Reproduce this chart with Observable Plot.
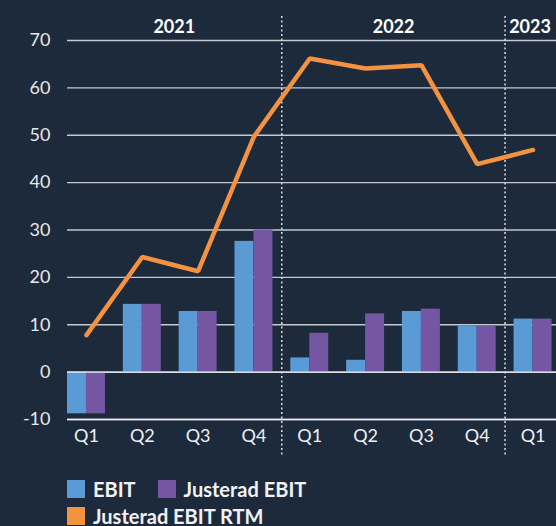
<!DOCTYPE html>
<html>
<head>
<meta charset="utf-8">
<script src="https://cdn.jsdelivr.net/npm/d3@7"></script>
<script src="https://cdn.jsdelivr.net/npm/@observablehq/plot@0.6"></script>
<style>
  html, body { margin: 0; padding: 0; background: #1c2a3c; }
  body { width: 556px; height: 526px; overflow: hidden; font-family: Lato, "Noto Sans", sans-serif; }
  #legend { display: flex; flex-wrap: wrap; width: 400px; margin-left: 67px; padding-top: 9px; row-gap: 8px; column-gap: 0; }
  .item { display: flex; align-items: center; color: #f2f2f2; font-size: 20px; font-weight: 700; margin-right: 22px; height: 19px; }
  .sw { width: 18px; height: 18px; margin-right: 8px; }
</style>
</head>
<body>
<div id="chart"></div>
<div id="legend"></div>
<script>
const quarters = ["2021 Q1","2021 Q2","2021 Q3","2021 Q4","2022 Q1","2022 Q2","2022 Q3","2022 Q4","2023 Q1"];
const ebit = [-8.8, 14.3, 12.8, 27.6, 3.0, 2.5, 12.8, 9.7, 11.2];
const justeradEbit = [-8.8, 14.3, 12.8, 30.0, 8.2, 12.3, 13.3, 9.7, 11.2];
const justeradEbitRtm = [7.8, 24.3, 21.3, 49.7, 66.2, 64.1, 64.8, 43.9, 46.9];
const yTicks = [-10, 0, 10, 20, 30, 40, 50, 60, 70];
const yearStarts = ["2022 Q1", "2023 Q1"];
const seriesNames = ["EBIT", "Justerad EBIT", "Justerad EBIT RTM"];
const colors = ["#5b9bd5", "#7556a3", "#f39240"];

const rows = quarters.map((q, i) => ({q, ebit: ebit[i], just: justeradEbit[i], rtm: justeradEbitRtm[i]}));

const chart = Plot.plot({
  width: 556,
  height: 470,
  marginTop: 40,
  marginBottom: 51,
  marginLeft: 67,
  marginRight: 0,
  style: {background: "transparent", color: "#e8e8e8", fontFamily: "Lato, 'Noto Sans', sans-serif", fontSize: "18px"},
  x: {type: "band", domain: quarters, paddingInner: 0.32, paddingOuter: 0.04, align: 0, round: false, label: null, axis: null},
  y: {domain: [-10, 70], label: null, axis: null},
  marks: [
    Plot.ruleY(yTicks, {stroke: "#c4c9cf", strokeWidth: 1.3}),
    Plot.barY(rows, {x: "q", y: "ebit", fill: colors[0], insetRight: 19}),
    Plot.barY(rows, {x: "q", y: "just", fill: colors[1], insetLeft: 19}),
    Plot.ruleY([0, -10], {stroke: "#eef0f2", strokeWidth: 1.3}),
    Plot.ruleX(yearStarts, {x: d => d, dx: -28, insetTop: -24, insetBottom: -36, stroke: "#d8dce0", strokeWidth: 1.5, strokeDasharray: "2,2.5"}),
    Plot.line(rows, {x: "q", y: "rtm", stroke: colors[2], strokeWidth: 4.5, strokeLinecap: "round", strokeLinejoin: "miter"}),
    Plot.axisY(yTicks, {tickSize: 0, tickPadding: 17, fontSize: 18, fill: "#e8e8e8", tickFormat: d => String(d), label: null}),
    Plot.axisX(quarters, {tickSize: 0, tickPadding: 10, fontSize: 18, fill: "#f0f0f0", tickFormat: d => d.split(" ")[1], label: null}),
    Plot.text(["2021"], {x: () => "2021 Q2", dx: 32, frameAnchor: "top", dy: -20, text: d => d, fill: "#ffffff", fontWeight: 700, fontSize: 18}),
    Plot.text(["2022"], {x: () => "2022 Q2", dx: 28, frameAnchor: "top", dy: -20, text: d => d, fill: "#ffffff", fontWeight: 700, fontSize: 18}),
    Plot.text(["2023"], {x: () => "2023 Q1", dx: -3, frameAnchor: "top", dy: -20, text: d => d, fill: "#ffffff", fontWeight: 700, fontSize: 18})
  ]
});
document.getElementById("chart").appendChild(chart);

const legend = document.getElementById("legend");
seriesNames.forEach((name, i) => {
  const item = document.createElement("div");
  item.className = "item";
  const sw = document.createElement("span");
  sw.className = "sw";
  sw.style.background = colors[i];
  const t = document.createElement("span");
  t.textContent = name;
  item.appendChild(sw);
  item.appendChild(t);
  legend.appendChild(item);
});
</script>
</body>
</html>
